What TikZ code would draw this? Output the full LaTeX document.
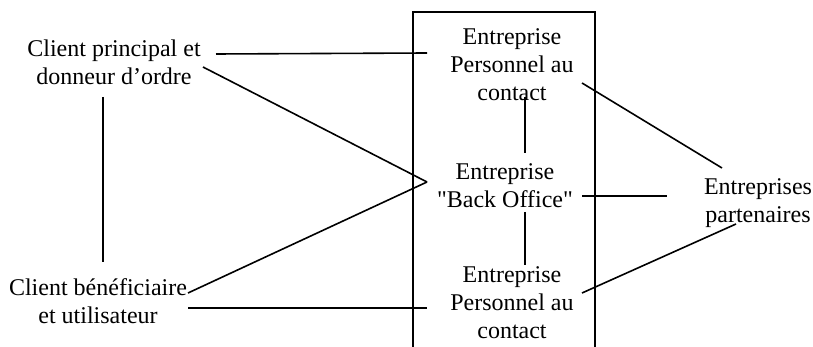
\documentclass[tikz,border=0pt]{standalone}
\usepackage{fontspec}
\setmainfont{Liberation Serif}[Ligatures=TeXOff]
\usetikzlibrary{calc}

\begin{document}
\begin{tikzpicture}[
            x = 0.5pt, y = -0.5pt, % one unit is one pixel, y goes down
            thick, % line style
            every node/.style = {align=center, inner sep=0pt, font=\fontsize{12}{14}\selectfont}
        ]
\useasboundingbox (0,0) rectangle (813,347);

% frame round the firm, open at the bottom
\draw (413,347) -- (413,12) -- (595,12) -- (595,347);

\node (top) at (512,65) {Entreprise\\Personnel au\\contact};
\node (back) at (505,186) {Entreprise\\"Back Office"};
\node (bot) at (512,303) {Entreprise\\Personnel au\\contact};

\node (cp) at (114,62) {Client principal et\\donneur d’ordre};
\node (cb) at (98,301) {Client bénéficiaire\\et utilisateur};
\node (part) at (758,203) {Entreprises\\partenaires};

% clients to the firm
 \draw ($(cp)+(102,-8)$) -- ($(top)+(-85,-12)$);
 \draw ($(cp)+(89,5)$) -- ($(back)+(-78,-4)$);
 \draw ($(cp)+(-11,35)$) -- ($(cb)+(5,-39)$);
 \draw ($(cb)+(90,-8)$) -- ($(back)+(-78,-4)$);
 \draw ($(cb)+(90,7)$) -- ($(bot)+(-85,5)$);

% inside the firm
 \draw ($(top)+(13,32)$) -- ($(back)+(20,-33)$);
 \draw ($(back)+(20,26)$) -- ($(bot)+(13,-38)$);

% firm to partners
 \draw ($(top)+(70,18)$) -- ($(part)+(-36,-35)$);
 \draw ($(back)+(77,10)$) -- ($(part)+(-91,-7)$);
 \draw ($(bot)+(70,-10)$) -- ($(part)+(-22,21)$);

\end{tikzpicture}
\end{document}
